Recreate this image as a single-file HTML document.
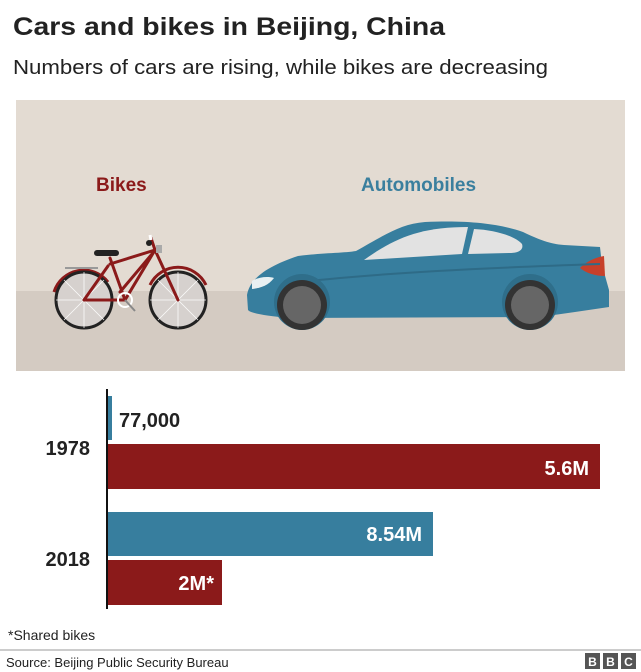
<!DOCTYPE html>
<html><head><meta charset="utf-8"><style>
html,body{margin:0;padding:0;background:#fff;}
svg{display:block;font-family:"Liberation Sans",Arial,sans-serif;}
</style></head><body>
<svg width="641" height="672" viewBox="0 0 641 672" xmlns="http://www.w3.org/2000/svg">
<text x="13" y="35" font-size="25" font-weight="bold" fill="#222" textLength="432" lengthAdjust="spacingAndGlyphs">Cars and bikes in Beijing, China</text>
<text x="13" y="74" font-size="20" fill="#222" textLength="535" lengthAdjust="spacingAndGlyphs">Numbers of cars are rising, while bikes are decreasing</text>
<!-- panel -->
<rect x="16" y="100" width="609" height="191" fill="#e3dbd2"/>
<rect x="16" y="291" width="609" height="80" fill="#d4cbc2"/>
<text x="96" y="191" font-size="19" font-weight="bold" fill="#8b1a1a">Bikes</text>
<text x="361" y="191" font-size="19" font-weight="bold" fill="#3a7f9e">Automobiles</text>
<!-- bike -->
<g>
<path d="M54,292 A31,31 0 0 1 108,282" stroke="#8b1a1a" stroke-width="3" fill="none"/>
<path d="M150,285 A31,31 0 0 1 206,285" stroke="#8b1a1a" stroke-width="3" fill="none"/>
<circle cx="84" cy="300" r="28" fill="#d6d1ce" stroke="#222" stroke-width="3"/>
<circle cx="178" cy="300" r="28" fill="#d6d1ce" stroke="#222" stroke-width="3"/>
<g stroke="#fff" stroke-width="0.8" opacity="0.9">
<path d="M84,272 V328 M56,300 H112 M64,280 L104,320 M64,320 L104,280 M178,272 V328 M150,300 H206 M158,280 L198,320 M158,320 L198,280"/>
</g>
<line x1="65" y1="268" x2="98" y2="268" stroke="#999" stroke-width="2"/>
<g stroke="#8b1a1a" stroke-width="3" fill="none" stroke-linecap="round">
<path d="M84,300 L125,300 L110,258 M84,300 L108,266 M110,264 L155,250 M155,250 L125,300 M152,254 L120,292 M155,250 L178,300 M151,238 L155,250"/>
</g>
<rect x="94" y="250" width="25" height="6" rx="3" fill="#222"/>
<line x1="151" y1="240" x2="150" y2="235" stroke="#fff" stroke-width="3"/>
<circle cx="149" cy="243" r="3" fill="#222"/>
<rect x="156" y="245" width="6" height="8" fill="#aaa"/>
<circle cx="125" cy="300" r="7" fill="none" stroke="#fff" stroke-width="2"/>
<line x1="125" y1="300" x2="135" y2="311" stroke="#888" stroke-width="2"/>
</g>
<!-- car -->
<g>
<path d="M247,295 C250,278 268,266 298,256 C320,253 345,253 356,251 C385,235 400,224 425,222 C470,220 500,224 523,232 C540,240 550,244 564,245 L600,247 L602,265 L609,290 L609,307 L575,312 L540,317 L290,318 C265,316 250,313 248,310 Z" fill="#377e9e"/>
<path d="M364,260 C395,238 420,227 468,227 L462,254 Z" fill="#e2e2e2"/>
<path d="M474,229 C495,230 515,236 522,244 C524,250 518,253 510,253 L468,254 Z" fill="#e2e2e2"/>
<path d="M580,268 C588,260 598,257 604,256 L605,276 C595,276 586,273 580,268 Z" fill="#c7402a"/>
<path d="M252,281 C258,277 268,276 274,278 C268,286 260,288 252,289 Z" fill="#e8f0f2"/>
<path d="M300,282 C380,273 480,268 600,264" stroke="#2e6b87" stroke-width="2" fill="none"/>
<path d="M358,290 L360,336" stroke="none"/>
<circle cx="302" cy="302" r="28" fill="#2f6e8a"/>
<circle cx="530" cy="302" r="28" fill="#2f6e8a"/>
<circle cx="302" cy="305" r="25" fill="#333"/>
<circle cx="302" cy="305" r="19" fill="#666"/>
<circle cx="530" cy="305" r="25" fill="#333"/>
<circle cx="530" cy="305" r="19" fill="#666"/>
</g>
<!-- bars -->
<rect x="108" y="396" width="4" height="44" fill="#377e9e"/>
<rect x="108" y="444" width="492" height="45" fill="#8b1a1a"/>
<rect x="108" y="512" width="325" height="44" fill="#377e9e"/>
<rect x="108" y="560" width="114" height="45" fill="#8b1a1a"/>
<line x1="107" y1="389" x2="107" y2="609" stroke="#111" stroke-width="2"/>
<text x="119" y="427" font-size="20" font-weight="bold" fill="#222">77,000</text>
<text x="589" y="475" font-size="20" font-weight="bold" fill="#fff" text-anchor="end">5.6M</text>
<text x="422" y="541" font-size="20" font-weight="bold" fill="#fff" text-anchor="end">8.54M</text>
<text x="214" y="590" font-size="20" font-weight="bold" fill="#fff" text-anchor="end">2M*</text>
<text x="90" y="455" font-size="20" font-weight="bold" fill="#222" text-anchor="end">1978</text>
<text x="90" y="566" font-size="20" font-weight="bold" fill="#222" text-anchor="end">2018</text>
<text x="8" y="640" font-size="14" fill="#222">*Shared bikes</text>
<line x1="0" y1="650" x2="641" y2="650" stroke="#bbb" stroke-width="1.5"/>
<text x="6" y="667" font-size="13" fill="#222">Source: Beijing Public Security Bureau</text>
<g font-size="12" font-weight="bold" fill="#fff" text-anchor="middle">
<rect x="585" y="653" width="15" height="16" fill="#555"/><text x="592.5" y="666">B</text>
<rect x="603" y="653" width="15" height="16" fill="#555"/><text x="610.5" y="666">B</text>
<rect x="621" y="653" width="15" height="16" fill="#555"/><text x="628.5" y="666">C</text>
</g>
</svg>
</body></html>
